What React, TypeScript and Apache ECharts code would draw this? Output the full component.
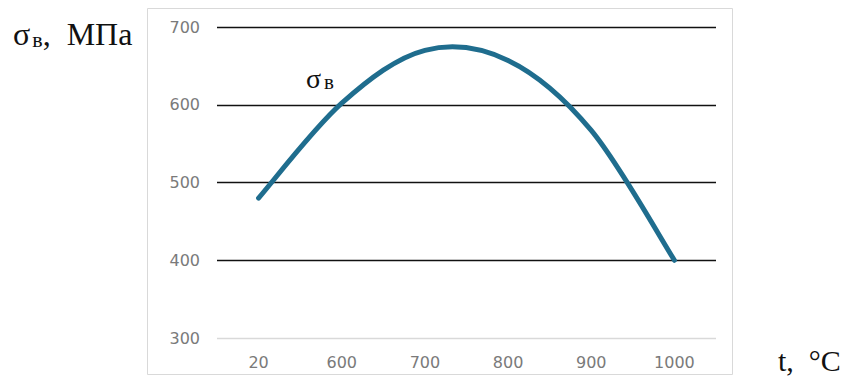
import React, { useEffect, useRef } from "react";
import * as echarts from "echarts";

const categories = ["20", "600", "700", "800", "900", "1000"];
const sigmaValues = [480, 602, 670, 657, 567, 400];
const yTicks = { min: 300, max: 700, interval: 100 };

function catmullRomPath(pts: number[][]): string {
  let d = `M${pts[0][0]},${pts[0][1]}`;
  const n = pts.length;
  for (let i = 0; i < n - 1; i++) {
    const p0 = pts[Math.max(0, i - 1)];
    const p1 = pts[i];
    const p2 = pts[i + 1];
    const p3 = pts[Math.min(n - 1, i + 2)];
    const c1x = p1[0] + (p2[0] - p0[0]) / 6;
    const c1y = p1[1] + (p2[1] - p0[1]) / 6;
    const c2x = p2[0] - (p3[0] - p1[0]) / 6;
    const c2y = p2[1] - (p3[1] - p1[1]) / 6;
    d += ` C${c1x},${c1y} ${c2x},${c2y} ${p2[0]},${p2[1]}`;
  }
  return d;
}

export default function App() {
  const ref = useRef<HTMLDivElement>(null);
  useEffect(() => {
    document.body.style.margin = "0";
    const chart = echarts.init(ref.current!, undefined, { renderer: "svg" });
    chart.setOption({
      animation: false,
      backgroundColor: "#ffffff",
      grid: { left: 217, right: 140, top: 27, bottom: 51, containLabel: false },
      xAxis: {
        type: "category",
        data: categories,
        boundaryGap: true,
        axisLine: { show: false },
        axisTick: { show: false },
        axisLabel: {
          margin: 16,
          color: "#7a7a7a",
          fontFamily: "DejaVu Sans",
          fontSize: 16,
        },
      },
      yAxis: {
        type: "value",
        min: yTicks.min,
        max: yTicks.max,
        interval: yTicks.interval,
        axisLine: { show: false },
        axisTick: { show: false },
        axisLabel: {
          margin: 17,
          color: "#7a7a7a",
          fontFamily: "DejaVu Sans",
          fontSize: 16,
        },
        splitLine: {
          show: true,
          lineStyle: {
            color: ["#d9d9d9", "#111111", "#111111", "#111111", "#111111"],
            width: 1.3,
          },
        },
      },
      series: [
        {
          type: "custom",
          data: sigmaValues.map((v, i) => [i, v]),
          encode: { x: 0, y: 1 },
          renderItem: (params: any, api: any) => {
            if (params.dataIndex !== 0) return null;
            const pts = sigmaValues.map((v, i) => api.coord([i, v]));
            return {
              type: "path",
              shape: { pathData: catmullRomPath(pts) },
              style: {
                fill: "none",
                stroke: "#1f6d8e",
                lineWidth: 5,
                lineCap: "round",
                lineJoin: "round",
              },
            };
          },
        },
      ],
      graphic: [
        {
          type: "rect",
          shape: { x: 147.5, y: 8.5, width: 585, height: 366 },
          style: { fill: "none", stroke: "#d9d9d9", lineWidth: 1 },
          silent: true,
          z: -1,
        },
        {
          type: "text",
          left: 13,
          top: 18,
          style: {
            text: "{a|σ}{b|в}{a|,  МПа}",
            rich: {
              a: {
                fontFamily: "Liberation Serif",
                fontSize: 32,
                fill: "#111",
                lineHeight: 32,
                verticalAlign: "bottom",
              },
              b: {
                fontFamily: "Liberation Serif",
                fontSize: 22,
                fill: "#111",
                lineHeight: 22,
                verticalAlign: "bottom",
                padding: [0, 0, 0, 2],
              },
            },
          },
        },
        {
          type: "text",
          left: 306,
          top: 64,
          style: {
            text: "{a|σ}{b|в}",
            rich: {
              a: {
                fontFamily: "Liberation Serif",
                fontSize: 28,
                fill: "#111",
                lineHeight: 28,
                verticalAlign: "bottom",
              },
              b: {
                fontFamily: "Liberation Serif",
                fontSize: 21,
                fill: "#111",
                lineHeight: 21,
                verticalAlign: "bottom",
                padding: [0, 0, 0, 3],
              },
            },
          },
        },
        {
          type: "text",
          left: 778,
          top: 345,
          style: {
            text: "t,  °C",
            fontFamily: "Liberation Serif",
            fontSize: 30,
            fill: "#111",
          },
        },
      ],
    });
    return () => chart.dispose();
  }, []);
  return <div ref={ref} style={{ width: 856, height: 389 }} />;
}
